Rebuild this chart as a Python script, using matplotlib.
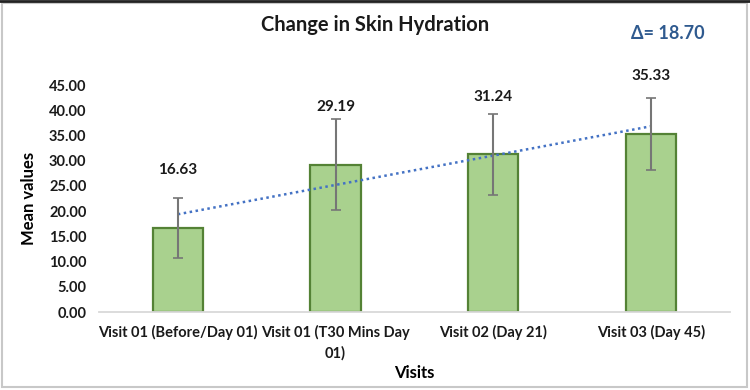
import matplotlib.pyplot as plt
import numpy as np
from matplotlib.patches import Rectangle
from matplotlib.lines import Line2D

plt.rcParams['font.family'] = ['Lato', 'DejaVu Sans']

visits = ['Visit 01 (Before/Day 01)', 'Visit 01 (T30 Mins Day\n01)',
          'Visit 02 (Day 21)', 'Visit 03 (Day 45)']
means = [16.63, 29.19, 31.24, 35.33]
sds = [6.0, 9.0, 8.0, 7.1]
yticks = [0, 5, 10, 15, 20, 25, 30, 35, 40, 45]
delta_text = 'Δ= 18.70'

fig = plt.figure(figsize=(7.5, 3.9), dpi=100)
ax = fig.add_axes([0.132, 0.2, 0.841, 0.582])

x = np.arange(len(visits))
ax.bar(x, means, width=0.32, color='#A9D18E', edgecolor='#548235', linewidth=1.6, zorder=2)
ax.errorbar(x, means, yerr=sds, fmt='none', ecolor='#767676', elinewidth=1.5,
            capsize=3.5, capthick=1.2, zorder=4)

# linear trendline through the means
k, b = np.polyfit(x + 1, means, 1)
ax.plot(x, k * (x + 1) + b, linestyle=(0, (1, 1.4)), color='#4472C4', linewidth=1.8, zorder=3)

for xi, m in zip(x, means):
    ax.annotate(f'{m:.2f}', (xi, m), xytext=(0, 41.5), textcoords='offset points',
                ha='center', va='center', fontsize=11, fontweight='bold', color='#1a1a1a')

ax.set_xlim(-0.5, 3.5)
ax.set_ylim(0, 45)
ax.set_yticks(yticks)
ax.set_yticklabels([f'{t:.2f}' for t in yticks], fontsize=10.5, fontweight='bold', color='#1a1a1a')
ax.set_xticks(x)
ax.set_xticklabels(visits, fontsize=10.5, fontweight='bold', color='#1a1a1a', linespacing=1.6)
ax.tick_params(axis='y', length=0, pad=9)
ax.tick_params(axis='x', length=0, pad=9)
for s in ['top', 'right', 'left']:
    ax.spines[s].set_visible(False)
ax.spines['bottom'].set_color('#d9d9d9')
ax.spines['bottom'].set_linewidth(1.3)

ax.set_ylabel('Mean values', fontsize=12, fontweight='bold', labelpad=9)
fig.text(0.552, 0.043, 'Visits', ha='center', va='center', fontsize=12, fontweight='bold')
fig.text(0.5, 0.935, 'Change in Skin Hydration', ha='center', va='center',
         fontsize=14.5, fontweight='bold', color='#1a1a1a')
fig.text(0.89, 0.915, delta_text, ha='center', va='center', fontsize=13,
         fontweight='bold', color='#2F5A8F')

# outer frame
fig.patches.append(Rectangle((0.003, 0.008), 0.993, 0.985, transform=fig.transFigure,
                             fill=False, edgecolor='#c8c8c8', linewidth=1.5))
fig.lines.append(Line2D([0, 1], [0.997, 0.997], transform=fig.transFigure,
                        color='#222222', linewidth=2))

fig.savefig('out.png', dpi=100)
